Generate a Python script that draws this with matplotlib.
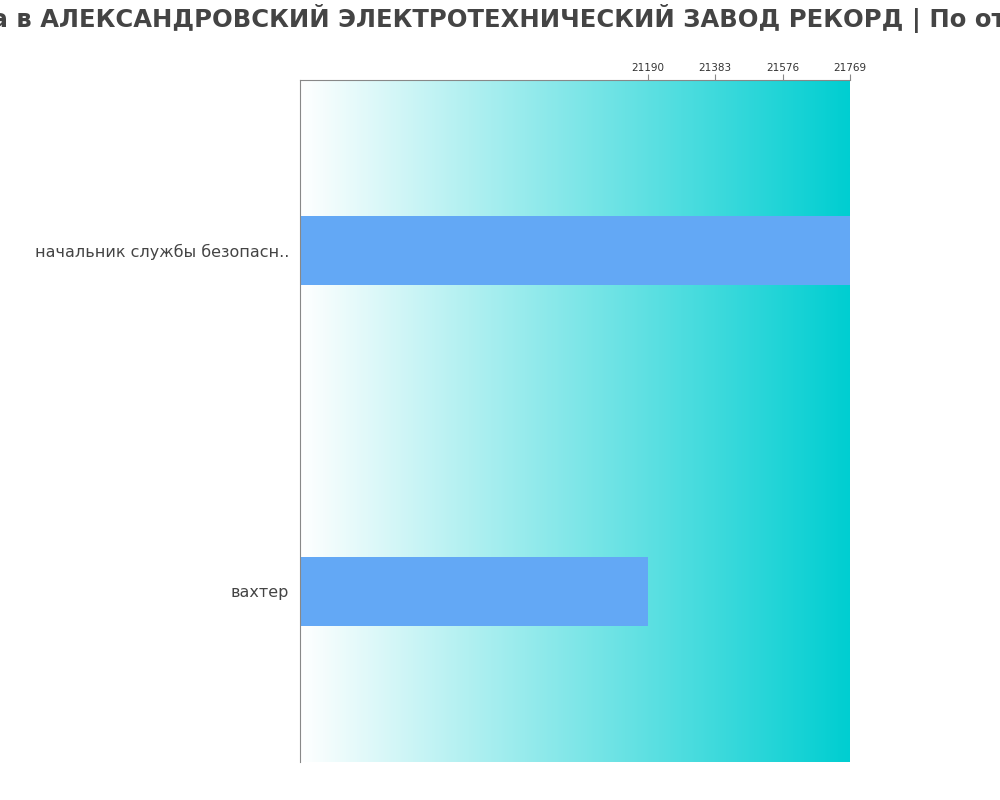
import numpy as np
import matplotlib.pyplot as plt
from matplotlib.colors import LinearSegmentedColormap

# data
jobs = ['начальник службы безопасн..', 'вахтер']
salaries = [21769, 21190]
tick_vals = [21190, 21383, 21576, 21769]
title = 'Зарплата в АЛЕКСАНДРОВСКИЙ ЭЛЕКТРОТЕХНИЧЕСКИЙ ЗАВОД РЕКОРД | По отзывам'

x_min = 20194
x_max = 21769

fig = plt.figure(figsize=(10, 8), dpi=100)
ax = fig.add_axes([0.3, 0.0475, 0.55, 0.8525])

# gradient background white -> turquoise
cmap = LinearSegmentedColormap.from_list('bg', ['#ffffff', '#00ced1'])
grad = np.linspace(0, 1, 256).reshape(1, -1)
ax.imshow(grad, cmap=cmap, aspect='auto', extent=[x_min, x_max, 1.5, -0.5], zorder=0)

y = np.arange(len(jobs))
ax.barh(y, salaries, height=0.2, color='#63a8f5', zorder=2)

ax.set_xlim(x_min, x_max)
ax.set_ylim(1.5, -0.5)
ax.set_yticks(y)
ax.set_yticklabels(jobs, fontsize=11.5, color='#444444')
ax.tick_params(axis='y', length=0, pad=8)

ax.xaxis.tick_top()
ax.set_xticks(tick_vals)
ax.set_xticklabels([str(v) for v in tick_vals], fontsize=7.5, color='#333333')
ax.tick_params(axis='x', length=4, color='#888888', pad=1)

for s in ['right', 'bottom']:
    ax.spines[s].set_visible(False)
for s in ['left', 'top']:
    ax.spines[s].set_color('#888888')

fig.text(0.485, 0.977, title, ha='center', va='center', fontsize=17.5,
         fontweight='bold', color='#444444')

fig.savefig('out.png', dpi=100)
